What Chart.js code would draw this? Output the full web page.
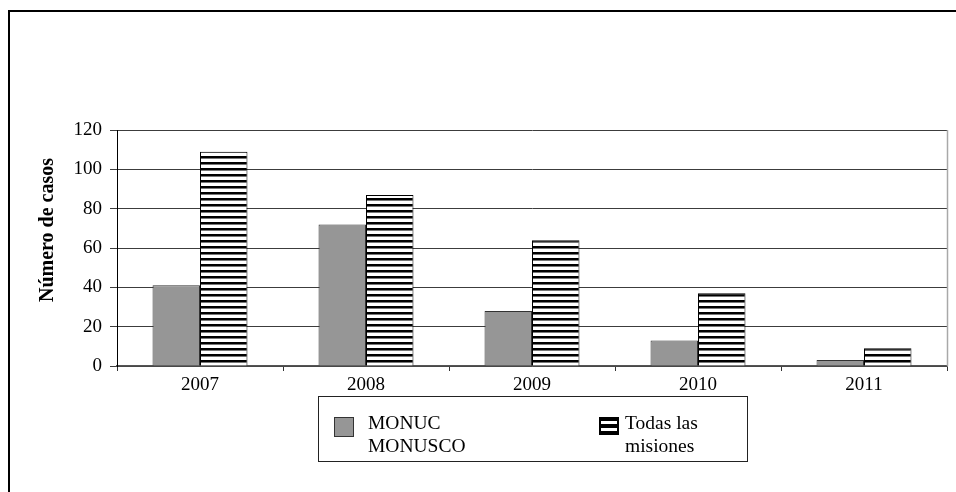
<!DOCTYPE html>
<html>
<head>
<meta charset="utf-8">
<script src="https://cdn.jsdelivr.net/npm/chart.js@4/dist/chart.umd.min.js"></script>
<style>
  html, body { margin: 0; padding: 0; background: #ffffff; }
  #wrap { width: 956px; height: 492px; position: relative; }
</style>
</head>
<body>
<div id="wrap"><canvas id="c" width="956" height="492"></canvas></div>
<script>
// Casos por año
const years = ['2007', '2008', '2009', '2010', '2011'];
const monucValues = [41, 72, 28, 13, 3];
const todasValues = [109, 87, 64, 37, 9];
const monucLabel = ['MONUC', 'MONUSCO'];
const todasLabel = ['Todas las', 'misiones'];
const yTicks = [0, 20, 40, 60, 80, 100, 120];
const yTitle = 'Número de casos';

const SERIF = '"Liberation Serif", "Times New Roman", serif';
const GRAY = '#969696';

// Horizontal black/white stripe fill
function stripePattern(ctx) {
  const p = document.createElement('canvas');
  p.width = 8; p.height = 6;
  const g = p.getContext('2d');
  g.fillStyle = '#ffffff'; g.fillRect(0, 0, 8, 6);
  g.fillStyle = '#000000'; g.fillRect(0, 0, 8, 2);
  g.fillStyle = '#777777'; g.fillRect(0, 2, 8, 1);
  return ctx.createPattern(p, 'repeat');
}

const canvas = document.getElementById('c');
const ctx = canvas.getContext('2d');
const stripes = stripePattern(ctx);

const framePlugin = {
  id: 'frame',
  beforeDraw(chart) {
    const c = chart.ctx;
    c.save();
    c.fillStyle = '#ffffff';
    c.fillRect(0, 0, chart.width, chart.height);
    c.restore();
  },
  afterDraw(chart) {
    const c = chart.ctx;
    const a = chart.chartArea;
    c.save();
    // outer border
    c.strokeStyle = '#000000';
    c.lineWidth = 2;
    c.strokeRect(9, 11, 1200, 1200);
    // plot area right edge
    c.strokeStyle = '#a8a8a8';
    c.lineWidth = 1.5;
    c.beginPath();
    c.moveTo(Math.round(a.right) + 0.5, a.top);
    c.lineTo(Math.round(a.right) + 0.5, a.bottom);
    c.stroke();

    // axis title
    c.fillStyle = '#000000';
    c.font = 'bold 20px ' + SERIF;
    c.textAlign = 'center';
    c.textBaseline = 'middle';
    c.translate(48, 230);
    c.rotate(-Math.PI / 2);
    c.fillText(yTitle, 0, 0);
    c.restore();

    // legend
    c.save();
    c.strokeStyle = '#222222';
    c.lineWidth = 1;
    c.strokeRect(318.5, 396.5, 429, 65);
    // MONUC / MONUSCO swatch
    c.fillStyle = GRAY;
    c.fillRect(334, 417, 20, 20);
    c.strokeStyle = '#333333';
    c.strokeRect(334.5, 417.5, 19, 19);
    // Todas las misiones swatch
    c.fillStyle = '#ffffff';
    c.fillRect(599, 417, 20, 18);
    c.fillStyle = '#000000';
    c.fillRect(599, 417, 20, 4);
    c.fillRect(599, 424, 20, 4);
    c.fillRect(599, 431, 20, 4);
    c.fillRect(599, 417, 2, 18);
    c.fillRect(617, 417, 2, 18);

    c.fillStyle = '#000000';
    c.font = '19.5px ' + SERIF;
    c.textAlign = 'left';
    c.textBaseline = 'alphabetic';
    monucLabel.forEach((t, i) => c.fillText(t, 368, 429 + i * 23));
    todasLabel.forEach((t, i) => c.fillText(t, 625, 429 + i * 23));
    c.restore();
  }
};

new Chart(ctx, {
  type: 'bar',
  data: {
    labels: years,
    datasets: [
      {
        label: monucLabel.join(' '),
        data: monucValues,
        backgroundColor: GRAY,
        borderColor: '#333333',
        borderWidth: 1,
        categoryPercentage: 0.572,
        barPercentage: 1
      },
      {
        label: todasLabel.join(' '),
        data: todasValues,
        backgroundColor: stripes,
        borderColor: '#000000',
        borderWidth: 1,
        categoryPercentage: 0.572,
        barPercentage: 1
      }
    ]
  },
  options: {
    responsive: false,
    animation: false,
    devicePixelRatio: 1,
    layout: { padding: { left: 0, right: 9, top: 130, bottom: 96 } },
    plugins: {
      legend: { display: false },
      tooltip: { enabled: false },
      title: { display: false }
    },
    scales: {
      x: {
        offset: true,
        afterFit(s) { s.height = 30; },
        grid: {
          offset: true,
          drawOnChartArea: false,
          drawTicks: true,
          tickLength: 5,
          color: '#333333'
        },
        border: { color: '#555555', width: 1.5 },
        ticks: {
          color: '#000000',
          padding: 3,
          font: { family: SERIF, size: 19 }
        }
      },
      y: {
        min: 0,
        max: 120,
        afterFit(s) { s.width = 117; },
        afterBuildTicks(s) { s.ticks = yTicks.map(v => ({ value: v })); },
        grid: {
          color: '#3c3c3c',
          lineWidth: 1,
          tickLength: 7
        },
        border: { color: '#000000', width: 1 },
        ticks: {
          color: '#000000',
          padding: 8,
          font: { family: SERIF, size: 19 }
        }
      }
    }
  },
  plugins: [framePlugin]
});
</script>
</body>
</html>
